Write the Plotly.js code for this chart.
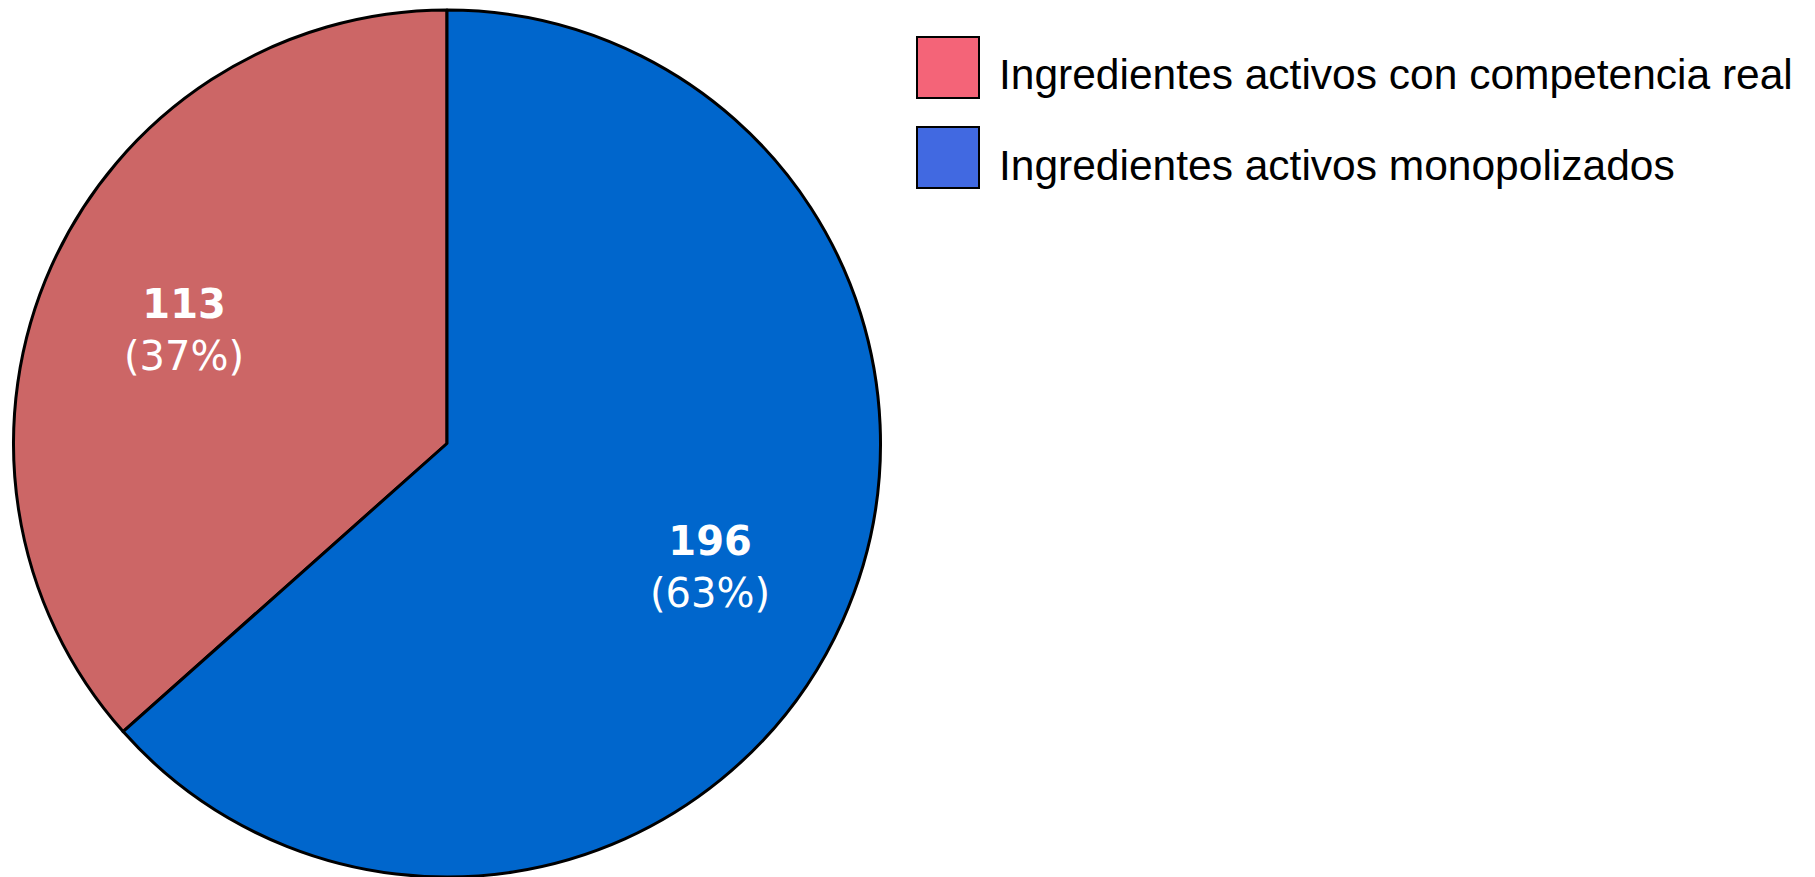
<!DOCTYPE html>
<html>
<head>
<meta charset="utf-8">
<script src="https://cdn.plot.ly/plotly-3.0.1.min.js"></script>
<style>html,body{margin:0;padding:0;background:#fff;}#chart{width:1815px;height:877px;}</style>
</head>
<body>
<div id="chart"></div>
<script>
const labels = ["Ingredientes activos con competencia real", "Ingredientes activos monopolizados"];
const values = [113, 196];
const sliceColors = ["#CC6666", "#0066CC"];
const legendColors = ["#F46478", "#4169E1"];

const W = 1815, H = 877;
const px = x => x / W;
const py = y => 1 - y / H;
const CX = 447, R = 433.5, CY = H - R;

const total = values.reduce((a, b) => a + b, 0);

const trace = {
  type: "pie",
  labels: labels,
  values: values,
  sort: false,
  direction: "clockwise",
  rotation: -360 * values[0] / total, // first slice ends at 12 o'clock (runs counterclockwise from the top)
  marker: {colors: sliceColors, line: {color: "#000000", width: 3}},
  textinfo: "none",
  hoverinfo: "none",
  showlegend: false,
  domain: {x: [px(CX - R), px(CX + R)], y: [0, py(H - 2 * R)]}
};

const shapes = [];
const annotations = [];

// slice labels placed along each slice bisector
let cum = 0;
values.forEach((v, i) => {
  const midFrac = (cum + v / 2) / total;
  cum += v;
  const ang = -midFrac * 2 * Math.PI;
  const d = 0.665 * R;
  const x = CX + d * Math.sin(ang);
  const y = CY - d * Math.cos(ang);
  const pct = Math.round(100 * v / total);
  annotations.push({xref: "paper", yref: "paper", x: px(x), y: py(y),
    xanchor: "center", yanchor: "middle", showarrow: false, yshift: -5,
    text: "<b>" + v + "</b><br>(" + pct + "%)",
    font: {family: "DejaVu Sans", size: 40, color: "#ffffff"}});
});

const rows = [{top: 37, bottom: 98, mid: 75}, {top: 127, bottom: 188, mid: 165}];
labels.forEach((lab, i) => {
  const r = rows[i];
  shapes.push({type: "rect", xref: "paper", yref: "paper",
    x0: px(917), x1: px(979), y0: py(r.bottom), y1: py(r.top),
    fillcolor: legendColors[i], line: {color: "#000000", width: 2}});
  annotations.push({xref: "paper", yref: "paper", x: px(997), y: py(r.mid),
    xanchor: "left", yanchor: "middle", showarrow: false, text: lab,
    font: {family: "Liberation Sans", size: 42.5, color: "#000000"}});
});

const layout = {
  width: W, height: H,
  margin: {l: 0, r: 0, t: 0, b: 0},
  paper_bgcolor: "#ffffff",
  plot_bgcolor: "#ffffff",
  showlegend: false,
  shapes: shapes,
  annotations: annotations
};

Plotly.newPlot("chart", [trace], layout, {displayModeBar: false, staticPlot: true});
</script>
</body>
</html>
